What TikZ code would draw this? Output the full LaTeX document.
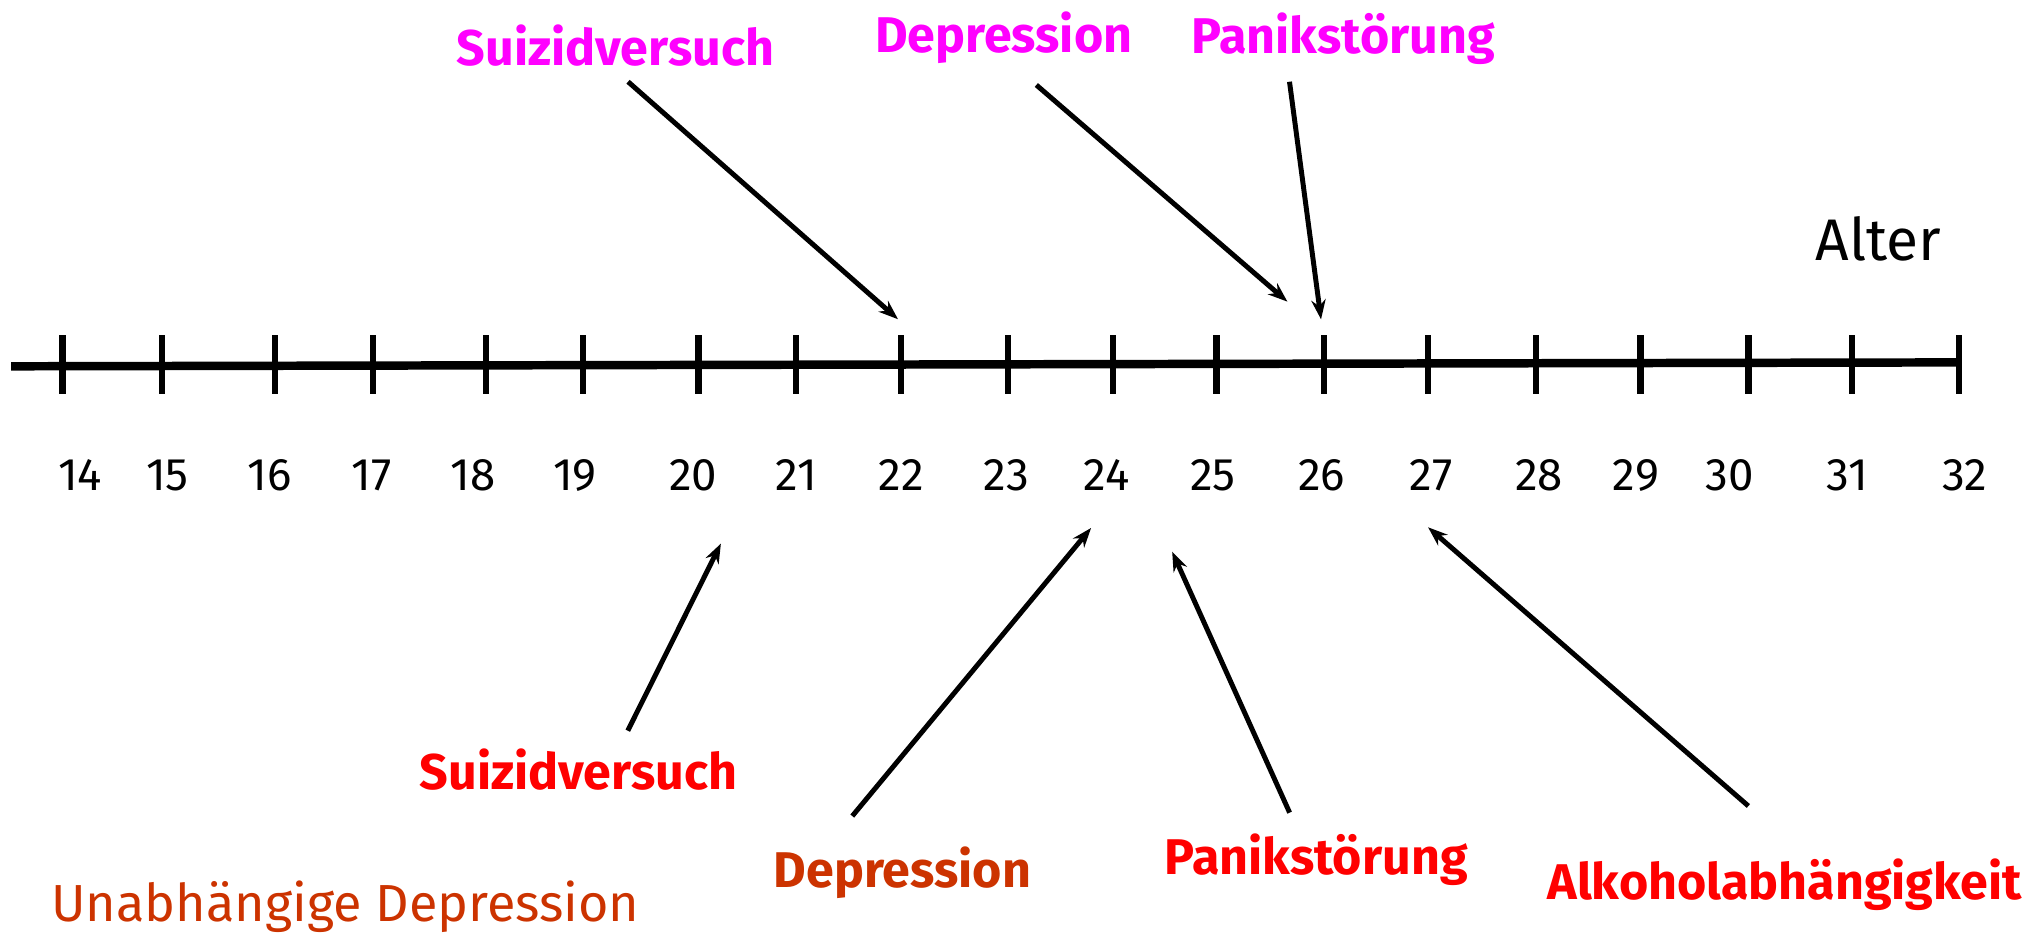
\documentclass[tikz,border=0pt]{standalone}
\usepackage{fontspec}
\setmainfont{Fira Sans}
\usetikzlibrary{arrows.meta}
\definecolor{mag}{RGB}{255,0,255}
\definecolor{rd}{RGB}{255,0,0}
\definecolor{orr}{RGB}{204,51,0}
\begin{document}
\begin{tikzpicture}[x=1pt,y=-1pt,
  lab/.style={font=\fontsize{38.5}{46}\selectfont\bfseries, anchor=base, inner sep=0pt},
  num/.style={font=\fontsize{35}{42}\selectfont, anchor=base, inner sep=0pt},
  arr/.style={line width=3.8pt, -{Stealth[length=15pt,width=11pt]}},
  axisline/.style={line width=6.5pt},
  tickmark/.style={line width=4.8pt}]
\useasboundingbox (0,0) rectangle (1568,715);

% axis
\coordinate (L) at (8.6,281);
\coordinate (R) at (1502.5,278);
\draw[axisline] (L) -- (R);
\foreach \t/\n in {47.9/14,124.5/15,210.7/16,286.3/17,373/18,447.5/19,535.8/20,610.9/21,691/22,773.5/23,854/24,933.1/25,1015.8/26,1095.5/27,1178.3/28,1258.5/29,1341.2/30,1420.8/31,1502.5/32}
  \draw[tickmark] (\t,257) -- (\t,302);
\foreach \c/\n in {61.5/14,128.5/15,206.7/16,284.8/17,362.9/18,441/19,531.7/20,610.8/21,691.5/22,772/23,848.8/24,930.5/25,1014/26,1097.8/27,1180.6/28,1255/29,1327/30,1417/31,1507/32}
  \node[num] (n\n) at (\c,376) {\n};

\node[font=\fontsize{45}{54}\selectfont, anchor=base, inner sep=0pt] (alter) at (1441,200) {Alter};

% top labels
\node[lab,mag] (s1) at (472,50) {Suizidversuch};
\node[lab,mag] (d1) at (770,40) {Depression};
\node[lab,mag] (p1) at (1030.5,41) {Panikstörung};

% bottom labels
\node[lab,rd] (s2) at (443.7,606) {Suizidversuch};
\node[lab,orr] (d2) at (692.3,681) {Depression};
\node[lab,rd] (p2) at (1009.6,671) {Panikstörung};
\node[lab,rd] (a2) at (1369,690) {Alkoholabhängigkeit};
\node[font=\fontsize{40}{48}\selectfont, anchor=base, inner sep=0pt, text=orr] (u) at (265,707) {Unabhängige Depression};

% arrow end points
\coordinate (s1a) at (481.8,62.7);  \coordinate (s1b) at (688.9,244.9);
\coordinate (d1a) at (795,65.2);    \coordinate (d1b) at (987.6,231.4);
\coordinate (p1a) at (989.2,62.7);  \coordinate (p1b) at (1013.4,245);
\coordinate (s2a) at (481.6,560.5); \coordinate (s2b) at (553,417);
\coordinate (d2a) at (653.8,626);   \coordinate (d2b) at (837,405);
\coordinate (p2a) at (989.3,623.4); \coordinate (p2b) at (899.2,423.2);
\coordinate (a2a) at (1341.2,618.3);\coordinate (a2b) at (1095.5,404.5);

\draw[arr] (s1a) -- (s1b);
\draw[arr] (d1a) -- (d1b);
\draw[arr] (p1a) -- (p1b);
\draw[arr] (s2a) -- (s2b);
\draw[arr] (d2a) -- (d2b);
\draw[arr] (p2a) -- (p2b);
\draw[arr] (a2a) -- (a2b);
\end{tikzpicture}
\end{document}
